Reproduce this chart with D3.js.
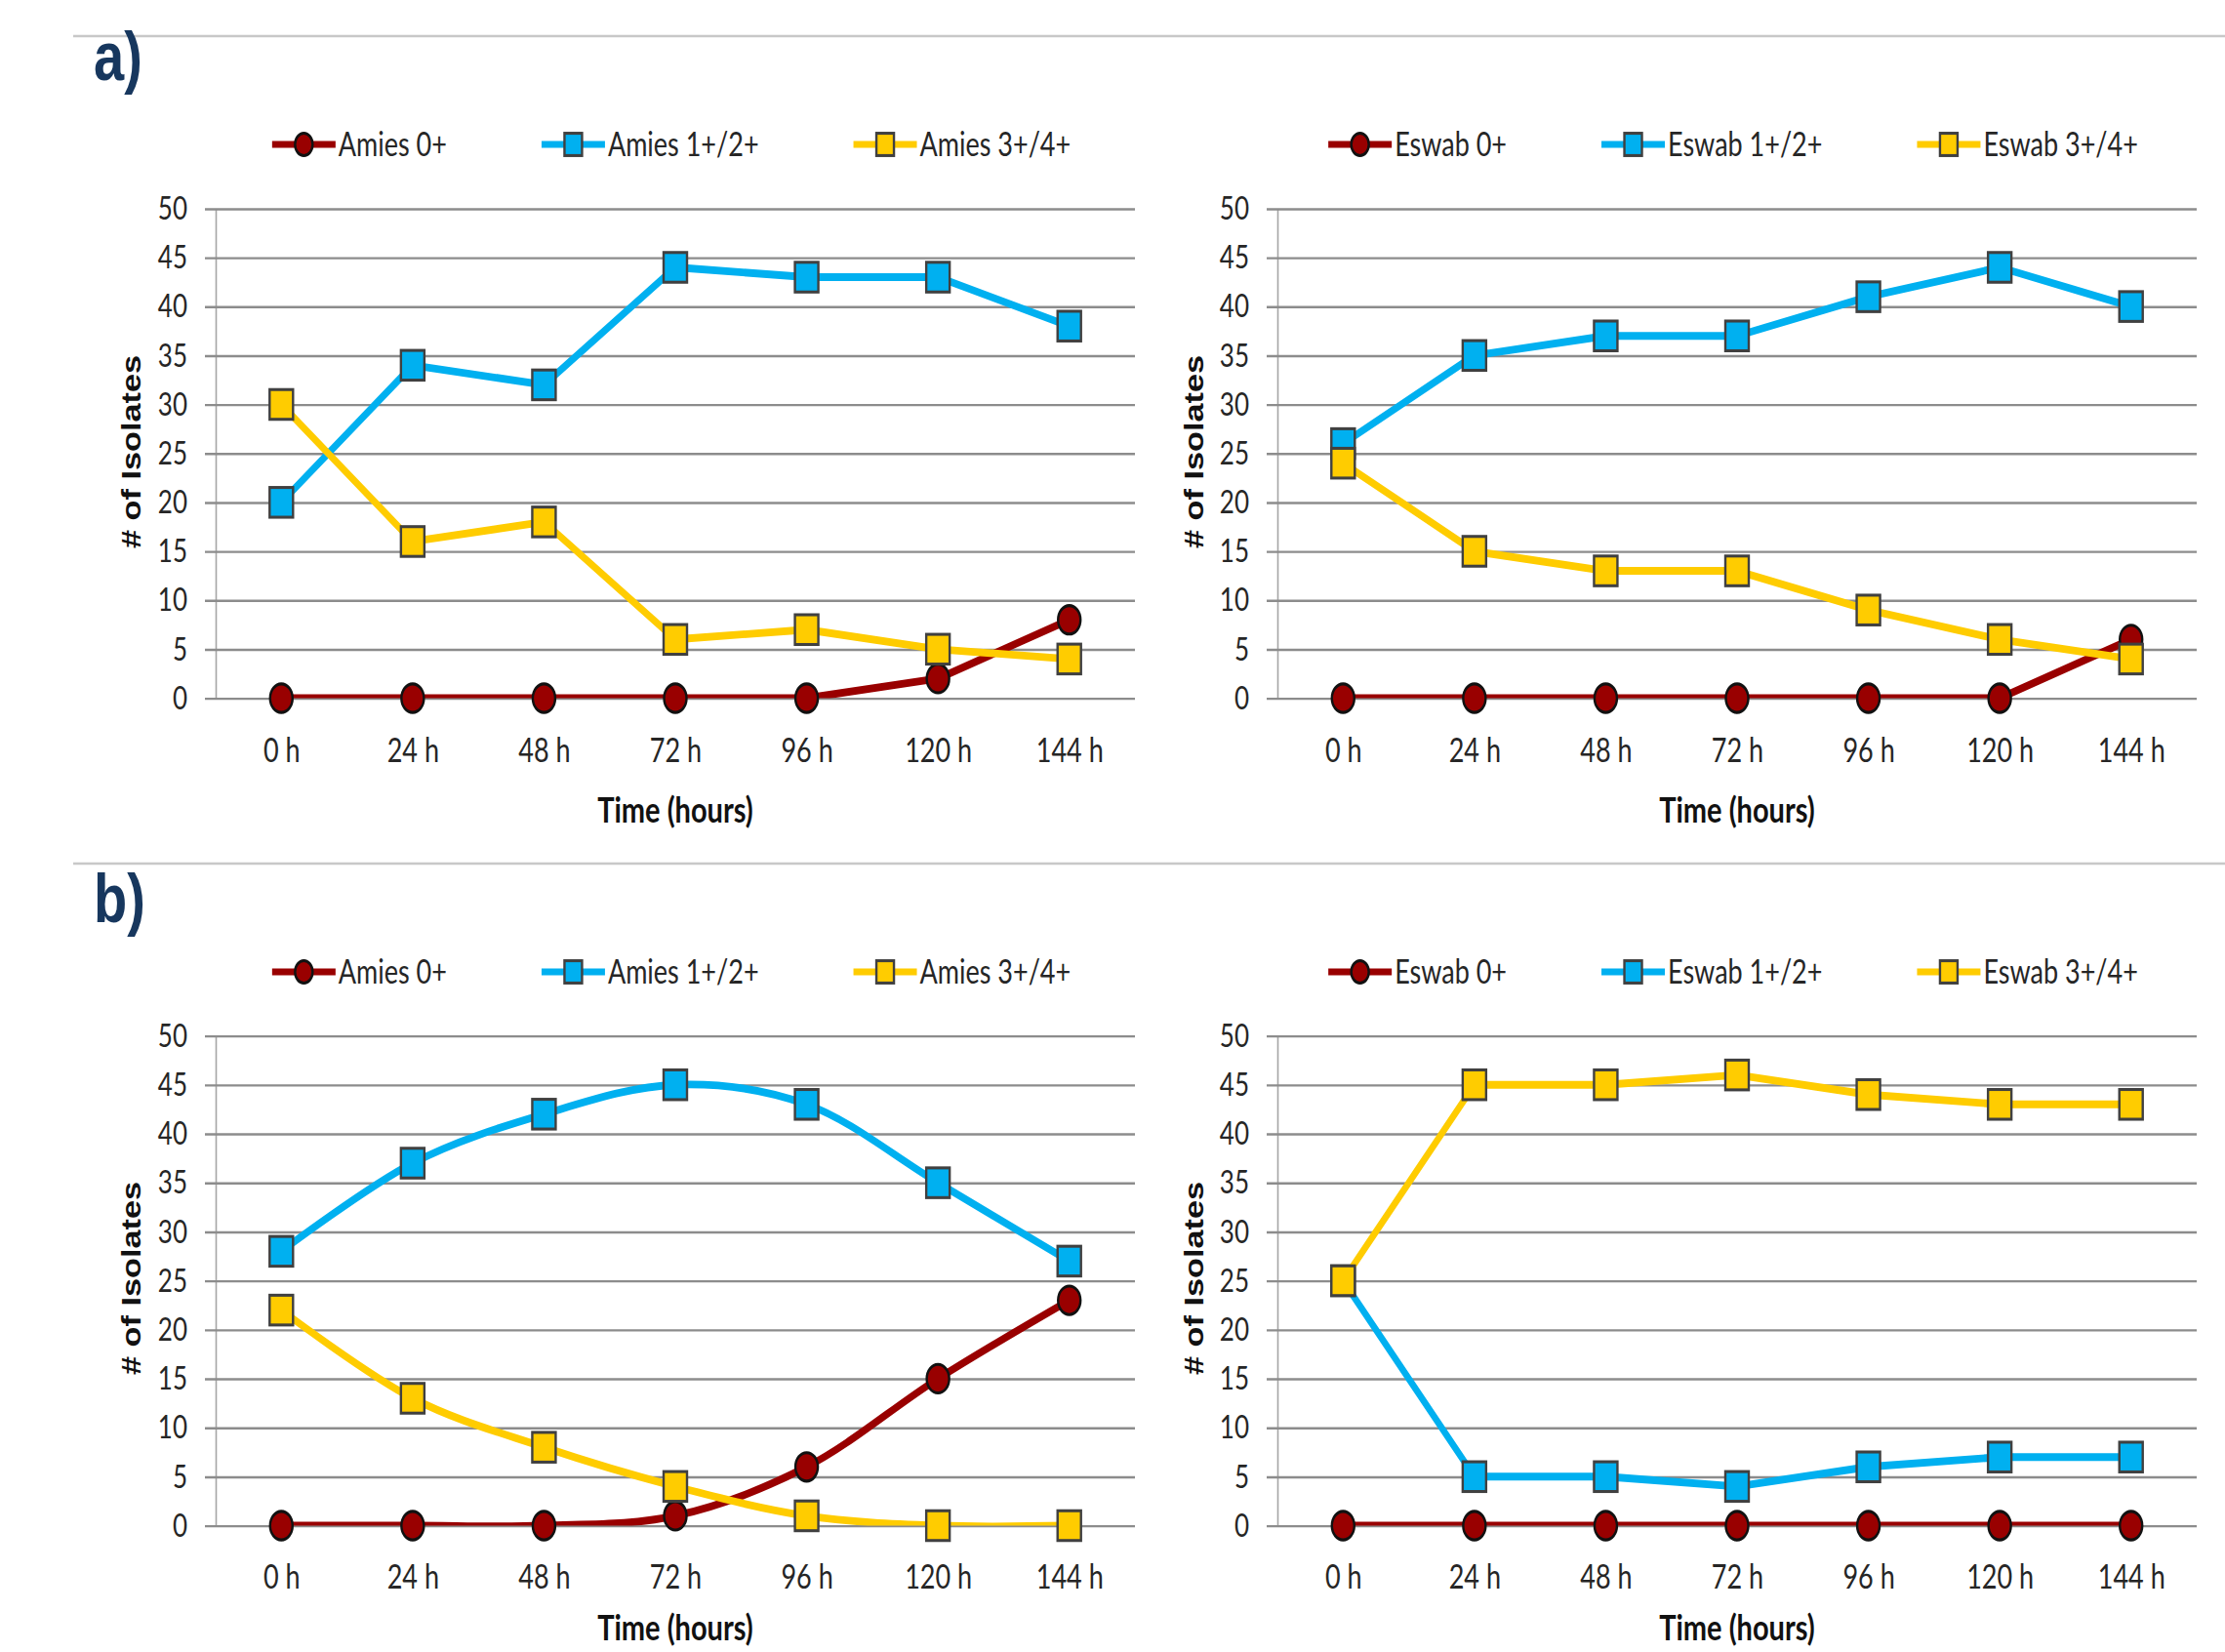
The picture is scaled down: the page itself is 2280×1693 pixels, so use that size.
<!DOCTYPE html>
<html>
<head>
<meta charset="utf-8">
<script src="https://cdn.jsdelivr.net/npm/d3@7"></script>
<style>
  html, body { margin: 0; padding: 0; background: #fff; }
  svg { display: block; }
</style>
</head>
<body>
<div id="chart"></div>
<script>
// categories and tick labels
const hours = ["0 h", "24 h", "48 h", "72 h", "96 h", "120 h", "144 h"];
const yTicks = [0, 5, 10, 15, 20, 25, 30, 35, 40, 45, 50];

// a) left - Amies
const amiesNamesA = ["Amies 0+", "Amies 1+/2+", "Amies 3+/4+"];
const amiesA_0 = [0, 0, 0, 0, 0, 2, 8];
const amiesA_12 = [20, 34, 32, 44, 43, 43, 38];
const amiesA_34 = [30, 16, 18, 6, 7, 5, 4];

// a) right - Eswab
const eswabNamesA = ["Eswab 0+", "Eswab 1+/2+", "Eswab 3+/4+"];
const eswabA_0 = [0, 0, 0, 0, 0, 0, 6];
const eswabA_12 = [26, 35, 37, 37, 41, 44, 40];
const eswabA_34 = [24, 15, 13, 13, 9, 6, 4];

// b) left - Amies
const amiesB_0 = [0, 0, 0, 1, 6, 15, 23];
const amiesB_12 = [28, 37, 42, 45, 43, 35, 27];
const amiesB_34 = [22, 13, 8, 4, 1, 0, 0];

// b) right - Eswab
const eswabB_0 = [0, 0, 0, 0, 0, 0, 0];
const eswabB_12 = [25, 5, 5, 4, 6, 7, 7];
const eswabB_34 = [25, 45, 45, 46, 44, 43, 43];

const colors = ["#990000", "#00b0f0", "#ffcc00"];
const markerStroke = ["#111", "#404040", "#404040"];

const W = 2280, H = 1693;
// the source picture is stretched vertically, so draw in a squashed space and scale back up
const K = 1.27;
const iy = v => v / K;

const svg = d3.select("#chart").append("svg")
    .attr("width", W)
    .attr("height", H);

const root = svg.append("g").attr("transform", `scale(1,${K})`);

// separators and panel letters
[37, 885].forEach(y => {
    root.append("line")
        .attr("x1", 75).attr("x2", W)
        .attr("y1", iy(y)).attr("y2", iy(y))
        .style("stroke", "#c8c8c8")
        .style("stroke-width", 1.8);
});
[["a)", 82], ["b)", 945]].forEach(([t, y]) => {
    root.append("text")
        .attr("x", 96).attr("y", iy(y))
        .text(t)
        .style("font-family", "'Liberation Sans', Arial, sans-serif")
        .style("font-weight", "bold")
        .style("font-size", "56px")
        .style("fill", "#17375e");
});

const panels = [
    { x0: 221, x1: 1163, yTop: 213.8, yBot: 715.5, legendY: 148, labY: 769, titleY: 830, ylabX: 134, ylabY: 463,
      names: amiesNamesA, series: [amiesA_0, amiesA_12, amiesA_34], curve: d3.curveLinear },
    { x0: 1309, x1: 2251, yTop: 213.8, yBot: 715.5, legendY: 148, labY: 769, titleY: 830, ylabX: 1223, ylabY: 463,
      names: eswabNamesA, series: [eswabA_0, eswabA_12, eswabA_34], curve: d3.curveLinear },
    { x0: 221, x1: 1163, yTop: 1061.5, yBot: 1563.5, legendY: 996, labY: 1616, titleY: 1668, ylabX: 134, ylabY: 1310,
      names: amiesNamesA, series: [amiesB_0, amiesB_12, amiesB_34], curve: d3.curveCatmullRom.alpha(0.5) },
    { x0: 1309, x1: 2251, yTop: 1061.5, yBot: 1563.5, legendY: 996, labY: 1616, titleY: 1668, ylabX: 1223, ylabY: 1310,
      names: eswabNamesA, series: [eswabB_0, eswabB_12, eswabB_34], curve: d3.curveLinear }
];

const labelFont = "Lato, 'Open Sans', sans-serif";

function drawMarker(g, i, cx, cy, big) {
    if (i === 0) {
        g.append("circle")
            .attr("cx", cx).attr("cy", cy)
            .attr("r", big ? 11.5 : 9)
            .style("fill", colors[0])
            .style("stroke", markerStroke[0])
            .style("stroke-width", 2.4);
    } else {
        const s = big ? 24 : 18;
        g.append("rect")
            .attr("x", cx - s / 2).attr("y", cy - s / 2)
            .attr("width", s).attr("height", s)
            .style("fill", colors[i])
            .style("stroke", markerStroke[i])
            .style("stroke-width", 2.4);
    }
}

panels.forEach((p, pi) => {
    const g = root.append("g");

    const x = d3.scalePoint()
        .domain(hours)
        .range([p.x0, p.x1])
        .padding(0.5);

    const y = d3.scaleLinear()
        .domain([0, 50])
        .range([iy(p.yBot), iy(p.yTop)]);

    // y axis with gridlines
    const yAxis = d3.axisLeft(y)
        .tickValues(yTicks)
        .tickSizeInner(11)
        .tickSizeOuter(0)
        .tickPadding(18);

    const ya = g.append("g")
        .attr("transform", `translate(${p.x0},0)`)
        .call(yAxis);
    ya.select(".domain").style("stroke", "#a6a6a6").style("stroke-width", 1.6);
    ya.selectAll(".tick line")
        .attr("x1", p.x1 - p.x0)
        .style("stroke", "#8c8c8c")
        .style("stroke-width", 1.9);
    ya.selectAll(".tick text")
        .style("font-family", labelFont)
        .style("font-size", "26px")
        .style("fill", "#262626");

    // x axis labels
    const xAxis = d3.axisBottom(x).tickSize(0);
    const xa = g.append("g")
        .attr("transform", `translate(0,${iy(p.yBot)})`)
        .call(xAxis);
    xa.select(".domain").remove();
    xa.selectAll(".tick text")
        .attr("y", iy(p.labY) - iy(p.yBot))
        .attr("dy", "0.36em")
        .style("font-family", labelFont)
        .style("font-size", "27px")
        .style("fill", "#262626");

    // axis titles
    g.append("text")
        .attr("x", (p.x0 + p.x1) / 2)
        .attr("y", iy(p.titleY))
        .attr("dy", "0.36em")
        .attr("text-anchor", "middle")
        .text("Time (hours)")
        .style("font-family", labelFont)
        .style("font-weight", "bold")
        .style("font-size", "29px")
        .style("fill", "#111");

    g.append("text")
        .attr("transform", `translate(${p.ylabX},${iy(p.ylabY)}) rotate(-90)`)
        .attr("dy", "0.36em")
        .attr("text-anchor", "middle")
        .text("# of Isolates")
        .style("font-family", "'Liberation Sans', Arial, sans-serif")
        .style("font-weight", "bold")
        .style("font-size", "27px")
        .style("fill", "#111");

    // clip lines to plot area like the original
    const clipId = "clip" + pi;
    g.append("clipPath").attr("id", clipId)
        .append("rect")
        .attr("x", p.x0).attr("y", iy(p.yTop))
        .attr("width", p.x1 - p.x0)
        .attr("height", iy(p.yBot) - iy(p.yTop));

    const line = d3.line()
        .x((d, i) => x(hours[i]))
        .y(d => y(d))
        .curve(p.curve);

    p.series.forEach((s, si) => {
        const sg = g.append("g");
        sg.append("path")
            .datum(s)
            .attr("d", line)
            .attr("clip-path", `url(#${clipId})`)
            .style("fill", "none")
            .style("stroke", colors[si])
            .style("stroke-width", 6.2)
            .style("stroke-linejoin", "round");
        s.forEach((v, i) => drawMarker(sg, si, x(hours[i]), y(v), true));
    });

    // legend, laid out in a row and centred on the plot
    const lg = g.append("g");
    let cursor = 0;
    const lineLen = 65;
    p.names.forEach((name, i) => {
        const item = lg.append("g").attr("transform", `translate(${cursor},0)`);
        item.append("line")
            .attr("x1", 0).attr("x2", lineLen)
            .attr("y1", iy(p.legendY)).attr("y2", iy(p.legendY))
            .style("stroke", colors[i])
            .style("stroke-width", 5.5);
        drawMarker(item, i, lineLen / 2, iy(p.legendY), false);
        const t = item.append("text")
            .attr("x", lineLen + 3)
            .attr("y", iy(p.legendY))
            .attr("dy", "0.36em")
            .text(name)
            .style("font-family", labelFont)
            .style("font-size", "27px")
            .style("fill", "#262626");
        cursor += lineLen + 3 + t.node().getComputedTextLength() + 97;
    });
    const total = cursor - 97;
    lg.attr("transform", `translate(${(p.x0 + p.x1) / 2 - total / 2 - 4},0)`);
});
</script>
</body>
</html>
